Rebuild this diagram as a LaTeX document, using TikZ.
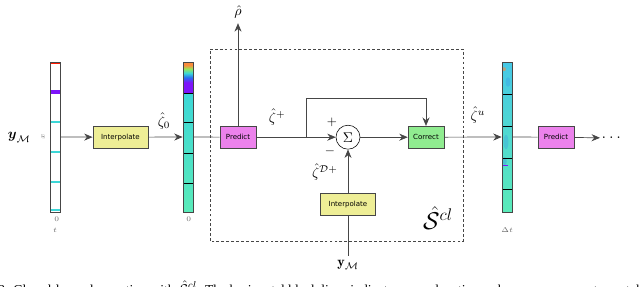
\documentclass[tikz,border=0pt]{standalone}
\usepackage{fontspec}
\newfontfamily\boxfont{DejaVu Sans}
\newfontfamily\capfont{Liberation Serif}
\usepackage{amsmath}
\usetikzlibrary{arrows.meta,positioning,calc}
\definecolor{InterpYellow}{RGB}{238,238,150}
\definecolor{PredictPink}{RGB}{236,130,236}
\definecolor{CorrectGreen}{RGB}{144,236,144}
\definecolor{FieldCyan}{RGB}{60,215,215}
\definecolor{FieldAqua}{RGB}{90,235,185}
\definecolor{FieldSky}{RGB}{70,200,230}
\definecolor{FieldBlue}{RGB}{40,110,240}
\definecolor{FieldPurple}{RGB}{125,20,250}
\definecolor{FieldOrange}{RGB}{250,140,60}
\definecolor{FieldLime}{RGB}{150,230,90}
\definecolor{EdgeGray}{RGB}{70,70,70}
\pgfdeclareverticalshading{fieldtop}{100bp}{color(0bp)=(FieldPurple); color(25bp)=(FieldPurple);
  color(42bp)=(FieldPurple); color(50bp)=(FieldBlue); color(57bp)=(FieldCyan);
  color(64bp)=(FieldLime); color(70bp)=(FieldOrange); color(100bp)=(FieldOrange)}

\begin{document}
\begin{tikzpicture}[
  blk/.style={draw=EdgeGray,minimum height=0.55cm,inner sep=1pt,
              font=\boxfont\fontsize{5}{6}\selectfont},
  bar/.style={draw=EdgeGray,line width=0.5pt,minimum width=0.25cm,
              minimum height=3.75cm,inner sep=0pt},
  sumnode/.style={draw,circle,minimum size=0.6cm,inner sep=0pt},
  arr/.style={-{Stealth[length=6pt,width=5pt]},draw=EdgeGray,line width=0.5pt},
  conn/.style={draw=EdgeGray,line width=0.5pt},
  ticklbl/.style={font=\fontsize{5}{6}\selectfont,text=black!60},
]
\useasboundingbox (0,0) rectangle (16,7.15);
\clip (0,0) rectangle (16,7.15);

% measurements y_M --- sparse sensor rows
\node at (0.48,3.72) {$\boldsymbol{y}_{\mathcal{M}}$};
\fill[white] (1.25,1.85) rectangle (1.5,5.6);
\fill[red!80!orange] (1.25,5.55) rectangle (1.5,5.6);
\fill[FieldPurple] (1.25,4.81) rectangle (1.5,4.9);
\foreach \yy in {4.1,3.35,2.6,1.9}
  \fill[FieldCyan] (1.25,\yy-0.03) rectangle (1.5,\yy+0.03);
\node[bar] (bar1) at (1.375,3.725) {};
\node[ticklbl,rotate=90] at (1.08,3.72) {$x$};
\node[ticklbl] at (1.42,1.67) {0};
\node[ticklbl] at (1.38,1.4) {$t$};

% first interpolation
\node[blk,fill=InterpYellow,minimum width=1.375cm] (interpA) at (3.01,3.72) {Interpolate};

% interpolated field zeta_0
\shade[shading=fieldtop] (4.575,4.825) rectangle (4.825,5.6);
\shade[top color=FieldCyan,bottom color=FieldAqua] (4.575,1.85) rectangle (4.825,4.825);
\foreach \yy in {4.825,4.1,3.325,2.575}
  \draw[black,line width=0.5pt] (4.575,\yy) -- (4.825,\yy);
\node[bar] (bar2) at (4.7,3.725) {};
\node[ticklbl] at (4.72,1.67) {0};

% closed-loop observer frame
\draw[EdgeGray,dashed,dash pattern=on 2pt off 1.5pt,line width=0.5pt]
  (5.25,1.125) rectangle (11.575,5.925);
\node[font=\LARGE] (scl) at (10.95,1.7) {$\hat{\mathcal{S}}^{cl}$};

% predict / sum / correct
\node[blk,fill=PredictPink,minimum width=0.9cm] (predA) at (5.95,3.72) {Predict};
\node (rho) at (5.95,6.85) {$\hat{\rho}$};
\node[sumnode] (sum) at (8.7,3.72) {$\Sigma$};
\node[blk,fill=CorrectGreen,minimum width=0.9cm] (corr) at (10.65,3.72) {Correct};
\node[blk,fill=InterpYellow,minimum width=1.375cm] (interpB) at (8.7,2.04) {Interpolate};
\node (ymB) at (8.7,0.52) {$\mathbf{y}_{\mathcal{M}}$};
\coordinate (branch) at (7.65,3.72);
\coordinate (loop) at (7.65,4.7);

\node at (4.1,4.12) {$\hat{\zeta}_0$};
\node at (6.93,4.22) {$\hat{\zeta}^{+}$};
\node[font=\small] at (8.3,4.08) {$+$};
\node[font=\small] at (8.25,3.37) {$-$};
\node at (8.12,2.85) {$\hat{\zeta}^{\mathcal{D}+}$};
\node at (11.95,4.27) {$\hat{\zeta}^{u}$};

% updated field zeta^u
\shade[top color=FieldSky,bottom color=FieldAqua] (12.55,1.85) rectangle (12.8,5.6);
\fill[FieldOrange,opacity=0.6] (12.6,5.42) circle (0.05);
\fill[FieldBlue,opacity=0.2] (12.7,5.1) ellipse (0.06 and 0.12);
\fill[FieldBlue,opacity=0.2] (12.65,3.6) ellipse (0.06 and 0.18);
\fill[FieldBlue,opacity=0.25] (12.62,3.12) ellipse (0.05 and 0.1);
\fill[FieldPurple] (12.55,2.99) rectangle (12.7,3.03);
\foreach \yy in {4.8,4.0,3.2,2.42}
  \draw[black,line width=0.5pt] (12.55,\yy) -- (12.8,\yy);
\node[bar] (bar3) at (12.675,3.725) {};
\node[ticklbl] at (12.68,1.4) {$\Delta t$};

\node[blk,fill=PredictPink,minimum width=0.9cm] (predB) at (13.9,3.72) {Predict};
\node[anchor=west,font=\large,inner sep=1pt] (dots) at (15.0,3.7) {$\ldots$};

% connectors
\draw[arr] (bar1) -- (interpA);
\draw[arr] (interpA) -- (bar2);
\draw[conn] (bar2) -- (predA);
\draw[arr] (predA) -- (rho);
\draw[arr] (predA) -- (sum);
\draw[arr] (branch) -- (loop) -| (corr.north);
\draw[arr] (sum) -- (corr);
\draw[arr] (interpB) -- (sum);
\draw[conn] (ymB) -- (interpB);
\draw[arr] (corr) -- (bar3);
\draw[conn] (bar3) -- (predB);
\draw[arr] (predB) -- (dots);

% caption (cut off by the page)
\node[anchor=base west,font=\capfont\fontsize{9.7}{11}\selectfont,inner sep=0pt] (cap) at (-0.05,-0.2)
  {2: Closed-loop observation with $\hat{\mathcal{S}}^{cl}$. The horizontal black lines indicate sensor locations where measurements are taken};
\end{tikzpicture}
\end{document}
